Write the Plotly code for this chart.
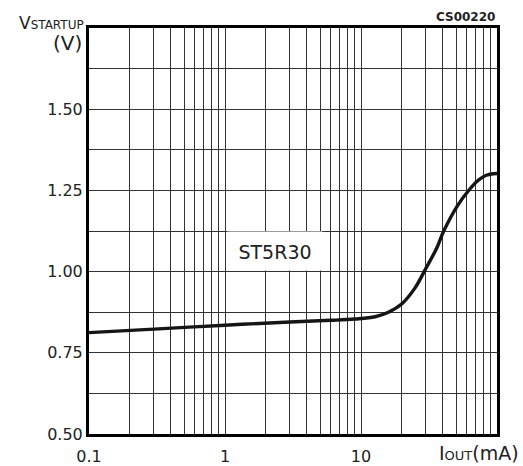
import plotly.graph_objects as go

# data
iout_ma = [0.1, 0.3, 1, 3, 6, 9, 12.7, 15.9, 20, 24.9, 30, 36, 40.5, 51.4, 62.5, 71.8, 82.5, 100]
vstartup = [0.812, 0.823, 0.835, 0.845, 0.850, 0.854, 0.861, 0.875, 0.901, 0.949,
            1.010, 1.072, 1.124, 1.204, 1.252, 1.279, 1.296, 1.302]

x_labeled = {0.1: "0.1", 1: "1", 10: "10"}
y_labeled = {0.5: "0.50", 0.75: "0.75", 1.0: "1.00", 1.25: "1.25", 1.5: "1.50"}

x_grid = [m * 10 ** e for e in (-1, 0, 1) for m in range(1, 10)] + [100]
y_grid = [0.5 + 0.125 * i for i in range(11)]

FONT = "DejaVu Sans"
TXT = "#222222"

fig = go.Figure()
fig.add_trace(go.Scatter(
    x=iout_ma, y=vstartup, mode="lines",
    line=dict(color="#151515", width=3.4, shape="spline", smoothing=1.0),
    hoverinfo="skip", showlegend=False,
))

def xlab(v):
    for k, t in x_labeled.items():
        if abs(v - k) < 1e-9:
            return t
    return ""

def ylab(v):
    for k, t in y_labeled.items():
        if abs(v - k) < 1e-9:
            return t
    return ""

fig.update_xaxes(
    type="log", range=[-1, 2], automargin=False,
    tickmode="array", tickvals=x_grid, ticktext=[xlab(v) for v in x_grid],
    showgrid=True, gridcolor="#333333", gridwidth=1,
    showline=True, linecolor="black", linewidth=3, mirror=True,
    ticks="", zeroline=False, ticklabelstandoff=6,
    tickfont=dict(family=FONT, size=16, color=TXT),
)
fig.update_yaxes(
    range=[0.5, 1.75], automargin=False,
    tickmode="array", tickvals=y_grid, ticktext=[ylab(v) for v in y_grid],
    showgrid=True, gridcolor="#333333", gridwidth=1,
    showline=True, linecolor="black", linewidth=3, mirror=True,
    ticks="", zeroline=False, ticklabelstandoff=0,
    tickfont=dict(family=FONT, size=16, color=TXT),
)

annos = [
    dict(text="ST5R30", x=0.368, y=1.063, xref="x", yref="y",
         font=dict(family=FONT, size=19, color=TXT),
         width=80, height=24, valign="bottom",
         bgcolor="white", borderpad=7, showarrow=False),
    dict(text="V<span style='font-size:12px'>STARTUP</span>", x=-0.008, y=1.012,
         xref="paper", yref="paper", xanchor="right", yanchor="middle",
         font=dict(family=FONT, size=17, color=TXT), showarrow=False),
    dict(text="(V)", x=-0.012, y=0.962, xref="paper", yref="paper",
         xanchor="right", yanchor="middle",
         font=dict(family=FONT, size=20, color=TXT), showarrow=False),
    dict(text="<b>CS00220</b>", x=1.0, y=1.027, xref="paper", yref="paper",
         xanchor="right", yanchor="middle",
         font=dict(family=FONT, size=12, color=TXT), showarrow=False),
    dict(text="I<span style='font-size:13px'>OUT</span>(mA)", x=1.059, y=-0.048,
         xref="paper", yref="paper", xanchor="right", yanchor="middle",
         font=dict(family=FONT, size=19, color=TXT), showarrow=False),
]

fig.update_layout(
    width=523, height=466,
    margin=dict(l=89, r=26, t=28, b=32, autoexpand=False),
    paper_bgcolor="white", plot_bgcolor="white",
    annotations=annos, showlegend=False,
)

fig.write_html(
    "out.html",
    config={"displayModeBar": False},
    post_script="document.body.style.margin='0';document.body.style.overflow='hidden';",
)
